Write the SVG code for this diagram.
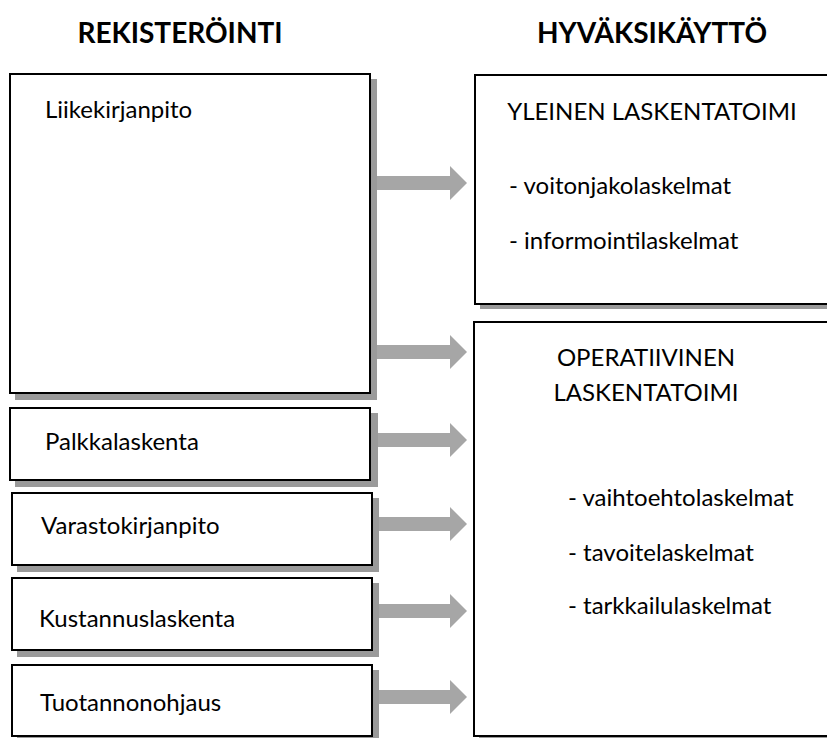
<svg xmlns="http://www.w3.org/2000/svg" width="827" height="738" viewBox="0 0 827 738">
  <style>
    .hdr { font-family: Lato, "Open Sans", "Liberation Sans", sans-serif; font-weight: bold; font-size: 28px; fill: #000; text-anchor: middle; }
    .lbl { font-family: Lato, "Open Sans", "Liberation Sans", sans-serif; font-size: 24px; fill: #000; }
    .mid { text-anchor: middle; }
    .shadow { fill: #9a9a9a; }
    .box { fill: #fff; stroke: #000; stroke-width: 2; }
    .arrow { fill: #a6a6a6; }
  </style>
  <defs>
    <!-- block arrow, drawn with its tip at the origin, pointing right -->
    <polygon id="blockArrow" points="-92,-7 -17,-7 -17,-17 0,0 -17,17 -17,7 -92,7"/>
  </defs>

  <rect width="827" height="738" fill="#fff"/>

  <!-- column headings -->
  <text class="hdr" x="180" y="43">REKISTERÖINTI</text>
  <text class="hdr" x="652" y="43">HYVÄKSIKÄYTTÖ</text>

  <!-- connectors -->
  <g id="connectors" class="arrow">
    <use href="#blockArrow" x="467" y="183"/>
    <use href="#blockArrow" x="467" y="352"/>
    <use href="#blockArrow" x="467" y="440"/>
    <use href="#blockArrow" x="467" y="524"/>
    <use href="#blockArrow" x="467" y="611"/>
    <use href="#blockArrow" x="467" y="697"/>
  </g>

  <!-- registration sources -->
  <g id="liikekirjanpito">
    <rect class="shadow" x="15" y="79" width="362" height="321"/>
    <rect class="box" x="10" y="74" width="360" height="319"/>
    <text class="lbl" x="45" y="118">Liikekirjanpito</text>
  </g>
  <g id="palkkalaskenta">
    <rect class="shadow" x="15" y="413" width="363" height="74"/>
    <rect class="box" x="10" y="408" width="360" height="72"/>
    <text class="lbl" x="45" y="450">Palkkalaskenta</text>
  </g>
  <g id="varastokirjanpito">
    <rect class="shadow" x="17" y="498" width="362" height="74"/>
    <rect class="box" x="12" y="493" width="360" height="72"/>
    <text class="lbl" x="41" y="534">Varastokirjanpito</text>
  </g>
  <g id="kustannuslaskenta">
    <rect class="shadow" x="17" y="583" width="362" height="74"/>
    <rect class="box" x="12" y="578" width="360" height="72"/>
    <text class="lbl" x="39" y="627">Kustannuslaskenta</text>
  </g>
  <g id="tuotannonohjaus">
    <rect class="shadow" x="17" y="670" width="362" height="74"/>
    <rect class="box" x="12" y="665" width="360" height="71"/>
    <text class="lbl" x="40" y="711">Tuotannonohjaus</text>
  </g>

  <!-- uses of the registered data -->
  <g id="yleinen-laskentatoimi">
    <rect class="shadow" x="480" y="80" width="370" height="229"/>
    <rect class="box" x="475" y="75" width="370" height="229"/>
    <text class="lbl mid" x="652" y="120">YLEINEN LASKENTATOIMI</text>
    <text class="lbl" x="509" y="194">- voitonjakolaskelmat</text>
    <text class="lbl" x="509" y="249">- informointilaskelmat</text>
  </g>
  <g id="operatiivinen-laskentatoimi">
    <rect class="shadow" x="479" y="327" width="370" height="420"/>
    <rect class="box" x="474" y="322" width="370" height="414"/>
    <text class="lbl mid" x="646" y="366">OPERATIIVINEN</text>
    <text class="lbl mid" x="646" y="401">LASKENTATOIMI</text>
    <text class="lbl" x="568" y="506">- vaihtoehtolaskelmat</text>
    <text class="lbl" x="568" y="561">- tavoitelaskelmat</text>
    <text class="lbl" x="568" y="614">- tarkkailulaskelmat</text>
  </g>
</svg>
